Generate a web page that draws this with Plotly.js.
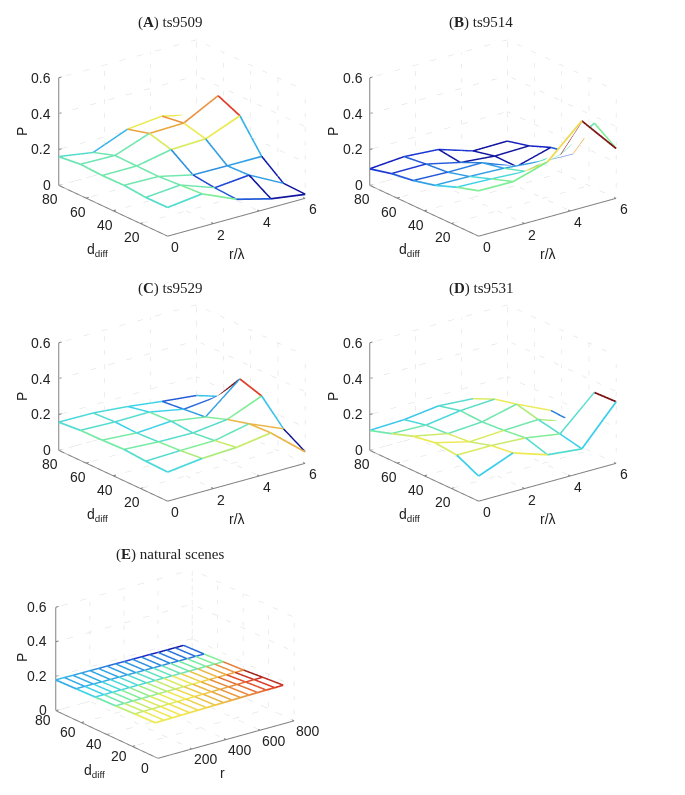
<!DOCTYPE html>
<html><head><meta charset="utf-8">
<script src="https://cdn.plot.ly/plotly-3.0.1.min.js"></script>
<style>html,body{margin:0;padding:0;background:#fff}</style></head>
<body><div id="chart" style="width:685px;height:795px"></div>
<script>
// ---- data: rows run from the smallest d_diff to the largest, columns along r
const rLambda = [0, 1.5, 3, 4.5, 6];
const dDiff = [0, 16, 32, 48, 64, 80];
const rPixels = [0,50,100,150,200,250,300,350,400,450,500,550,600,650,700,750];
const dScenes = [2, 18, 33, 49, 64, 80];

const pA = [[.16,.183,.10,.05,.022],[.159,.175,.107,.125,.026],[.17,.166,.122,.12,.12],[.168,.168,.207,.214,.29],[.174,.17,.24,.245,.345],[.16,.13,.207,.227,.18]];
const cA = [[.42,.5,.2,.05,.05],[.45,.47,.17,.3,.07],[.47,.47,.28,.3,.33],[.47,.47,.6,.62,.87],[.46,.47,.72,.75,.72],[.42,.33,.62,.62,.62]];
const pB = [[.253,.251,.308,.484,.277],[.216,.209,.198,.242,.362],[.17,.166,.159,.142,.137],[.14,.133,.133,.059,.113],[.122,.122,.078,.061,.065],[.092,.107,.094,.033,.035]];
const cB = [[.5,.5,.65,1,.5],[.38,.4,.45,.45,.72],[.3,.3,.3,.2,.2],[.2,.25,.25,.05,.1],[.15,.2,.05,.05,.1],[.1,.15,.15,.05,.05]];
const pC = [[.162,.185,.194,.222,.063],[.166,.172,.175,.216,.135],[.175,.164,.161,.183,.262],[.17,.157,.17,.14,.30],[.168,.162,.164,.127,.146],[.157,.155,.138,.114,.094]];
const cC = [[.4,.55,.58,.7,.03],[.42,.5,.45,.7,.35],[.48,.42,.42,.5,.87],[.48,.38,.48,.3,1],[.42,.42,.38,.22,.35],[.4,.4,.38,.2,.2]];
const pD = [[.14,.216,.153,.133,.343],[.2,.2,.19,.159,.338],[.212,.164,.175,.183,.116],[.192,.153,.166,.212,.124],[.15,.144,.172,.183,.053],[.111,.118,.142,.129,.024]];
const cD = [[.37,.62,.42,.37,1],[.6,.58,.5,.42,.42],[.62,.6,.47,.55,.25],[.58,.45,.47,.62,.3],[.47,.4,.43,.6,.3],[.36,.36,.42,.42,.3]];
const pE = [
 [.199,.200,.201,.202,.203,.204,.205,.206,.207,.208,.209,.210,.211,.212,.212,.213],
 [.195,.196,.196,.197,.198,.198,.199,.200,.200,.201,.201,.202,.202,.203,.203,.203],
 [.190,.190,.191,.191,.191,.192,.192,.192,.192,.193,.193,.193,.193,.193,.193,.193],
 [.186,.186,.186,.186,.186,.186,.186,.186,.186,.186,.186,.186,.186,.186,.186,.186],
 [.182,.182,.182,.181,.181,.181,.181,.180,.180,.180,.180,.180,.179,.179,.179,.179],
 [.178,.178,.177,.177,.177,.176,.176,.176,.175,.175,.175,.175,.174,.174,.174,.174]];
const cE = [
 [.62,.62,.63,.63,.64,.65,.66,.68,.70,.72,.74,.77,.80,.84,.88,.92],
 [.57,.58,.58,.60,.60,.62,.63,.65,.67,.70,.72,.76,.80,.85,.90,.95],
 [.47,.47,.48,.50,.52,.54,.56,.58,.60,.63,.66,.68,.70,.72,.75,.78],
 [.38,.38,.39,.40,.40,.41,.42,.43,.44,.45,.46,.47,.48,.49,.50,.50],
 [.32,.32,.32,.32,.31,.31,.30,.30,.29,.28,.27,.26,.25,.24,.23,.22],
 [.34,.33,.31,.30,.28,.25,.22,.20,.17,.14,.12,.10,.08,.06,.05,.05]];

const titles = ['(<b>A</b>) ts9509','(<b>B</b>) ts9514','(<b>C</b>) ts9529','(<b>D</b>) ts9531','(<b>E</b>) natural scenes'];
const zTicks = [0, 0.2, 0.4, 0.6];
const rTicksL = [0, 2, 4, 6];
const dTicksL = [0, 20, 40, 60, 80];
const rTicksE = [0, 200, 400, 600, 800];
const dTicksE = [0, 20, 40, 60, 80];

const jet = [[0,'#0a0a80'],[.125,'#1a28d0'],[.375,'#3cd2ec'],[.5,'#80ee98'],[.625,'#f0ea50'],[.875,'#e03a28'],[1,'#7a1010']];
const W = 685, H = 795;

const panels = [
 {r:rLambda,d:dDiff,p:pA,c:cA,cx:181.5,cy:138,rMax:6,dMax:80,rt:rTicksL,dt:dTicksL,rLab:'r/λ',as:[1,1.03,.665],rs:[8,-11],ds:[-8,-14],zs:-5,lx:237,ly:254,dx:98,dy:250,px:22,py:132,tx:170,ty:23},
 {r:rLambda,d:dDiff,p:pB,c:cB,cx:493,cy:138,rMax:6,dMax:80,rt:rTicksL,dt:dTicksL,rLab:'r/λ',as:[1,1.03,.665],rs:[8,-11],ds:[-8,-14],zs:-5,lx:548,ly:254,dx:409,dy:250,px:333,py:132,tx:481,ty:23},
 {r:rLambda,d:dDiff,p:pC,c:cC,cx:181.5,cy:403,rMax:6,dMax:80,rt:rTicksL,dt:dTicksL,rLab:'r/λ',as:[1,1.03,.665],rs:[8,-11],ds:[-8,-14],zs:-5,lx:237,ly:519,dx:98,dy:515,px:22,py:397,tx:170,ty:289},
 {r:rLambda,d:dDiff,p:pD,c:cD,cx:493,cy:403,rMax:6,dMax:80,rt:rTicksL,dt:dTicksL,rLab:'r/λ',as:[1,1.03,.665],rs:[8,-11],ds:[-8,-14],zs:-5,lx:548,ly:519,dx:409,dy:515,px:333,py:397,tx:481,ty:289},
 {r:rPixels,d:dScenes,p:pE,c:cE,cx:175,cy:663.5,rMax:800,dMax:80,rt:rTicksE,dt:dTicksE,rLab:'r',as:[.991,.966,.639],rs:[14,-11],ds:[-13,-10],zs:-7,lx:222,ly:773,dx:94,dy:771,px:22,py:658,tx:170,ty:554}
];

const traces = [], annotations = [], layout = {
  width:W,height:H,margin:{l:0,r:0,t:0,b:0},paper_bgcolor:'#fff',showlegend:false,dragmode:false
};
const tickFont = {family:'Liberation Sans, Arial, sans-serif',size:14,color:'#222'};

panels.forEach((P,n)=>{
  const sid = n===0?'scene':'scene'+(n+1);
  const hw=155, hh=118, k=2, zoom=1.47;
  const blank = (rng)=>({range:rng,autorange:false,showgrid:false,zeroline:false,showticklabels:false,showline:false,
      showbackground:false,ticks:'',title:{text:''},showspikes:false});
  const sceneAnn = [];
  P.rt.forEach(v=>{ if(P.rMax===800&&v===0) return; sceneAnn.push({x:v,y:0,z:0,text:String(v),showarrow:false,xshift:P.rs[0],yshift:P.rs[1],font:tickFont}); });
  P.dt.forEach(v=>{ if(P.rMax!==800&&v===0) return; sceneAnn.push({x:0,y:v,z:0,text:String(v),showarrow:false,xshift:P.ds[0],yshift:P.ds[1],font:tickFont}); });
  zTicks.forEach(v=>{ sceneAnn.push({x:0,y:P.dMax,z:v,text:String(v),showarrow:false,xanchor:'right',xshift:P.zs,font:tickFont}); });
  layout[sid] = {
    domain:{x:[(P.cx-hw)/W,(P.cx+hw)/W],y:[1-(P.cy+hh)/H,1-(P.cy-hh)/H]},
    xaxis:blank([0,P.rMax]),yaxis:blank([0,P.dMax]),zaxis:blank([0,.6]),
    aspectmode:'manual',aspectratio:{x:P.as[0]*zoom,y:P.as[1]*zoom,z:P.as[2]*zoom},
    camera:{projection:{type:'orthographic'},up:{x:0,y:0,z:1},center:{x:0,y:0,z:0},eye:{x:-.609*k,y:-.793*k,z:.384*k}},
    annotations:sceneAnn, bgcolor:'rgba(0,0,0,0)'
  };
  const gx=[],gy=[],gz=[];
  const seg=(a,b)=>{gx.push(a[0],b[0],null);gy.push(a[1],b[1],null);gz.push(a[2],b[2],null);};
  P.rt.forEach(v=>{seg([v,0,0],[v,P.dMax,0]);seg([v,P.dMax,0],[v,P.dMax,.6]);});
  P.dt.forEach(v=>{seg([0,v,0],[P.rMax,v,0]);seg([P.rMax,v,0],[P.rMax,v,.6]);});
  zTicks.forEach(v=>{seg([0,P.dMax,v],[P.rMax,P.dMax,v]);seg([P.rMax,0,v],[P.rMax,P.dMax,v]);});
  traces.push({type:'scatter3d',mode:'lines',scene:sid,x:gx,y:gy,z:gz,hoverinfo:'skip',line:{color:'#dcdcdc',width:1,dash:'dot'}});
  // axis lines with short tick marks
  const ax=[],ay=[],az=[];
  const aseg=(a,b)=>{ax.push(a[0],b[0],null);ay.push(a[1],b[1],null);az.push(a[2],b[2],null);};
  aseg([0,0,0],[P.rMax,0,0]);aseg([0,0,0],[0,P.dMax,0]);aseg([0,P.dMax,0],[0,P.dMax,.6]);
  P.rt.forEach(v=>aseg([v,0,0],[v,P.dMax*.02,0]));
  P.dt.forEach(v=>aseg([0,v,0],[P.rMax*.02,v,0]));
  zTicks.forEach(v=>aseg([0,P.dMax,v],[P.rMax*.02,P.dMax,v]));
  traces.push({type:'scatter3d',mode:'lines',scene:sid,x:ax,y:ay,z:az,hoverinfo:'skip',line:{color:'#808080',width:2}});
  traces.push({type:'surface',scene:sid,x:P.r,y:P.d,z:P.p.map(row=>row.map(v=>v-.003)),showscale:false,hoverinfo:'skip',
    colorscale:[[0,'#fff'],[1,'#fff']],lighting:{ambient:1,diffuse:0,specular:0,fresnel:0,roughness:1}});
  const mx=[],my=[],mz=[],mc=[];
  const edge=(i,j,i2,j2)=>{const c=P.c[j][i];
    mx.push(P.r[i],P.r[i2],null);my.push(P.d[j],P.d[j2],null);mz.push(P.p[j][i],P.p[j2][i2],null);mc.push(c,c,c);};
  P.d.forEach((_,j)=>P.r.forEach((_,i)=>{
    if(i+1<P.r.length) edge(i,j,i+1,j);
    if(j+1<P.d.length) edge(i,j,i,j+1);
  }));
  traces.push({type:'scatter3d',mode:'lines',scene:sid,x:mx,y:my,z:mz,hoverinfo:'skip',
    line:{width:3.5,color:mc,colorscale:jet,cmin:0,cmax:1,showscale:false}});
  const pa=(x,y,text,extra)=>annotations.push(Object.assign({xref:'paper',yref:'paper',xanchor:'center',yanchor:'middle',x:x/W,y:1-y/H,text,showarrow:false,font:tickFont},extra||{}));
  pa(P.tx,P.ty,titles[n],{font:{family:'Liberation Serif, serif',size:15,color:'#222'}});
  pa(P.lx,P.ly,P.rLab);
  pa(P.dx,P.dy,'d<sub>diff</sub>');
  pa(P.px,P.py,'P',{textangle:-90});
});
layout.annotations = annotations;
Plotly.newPlot('chart',traces,layout,{displayModeBar:false});
</script></body></html>
